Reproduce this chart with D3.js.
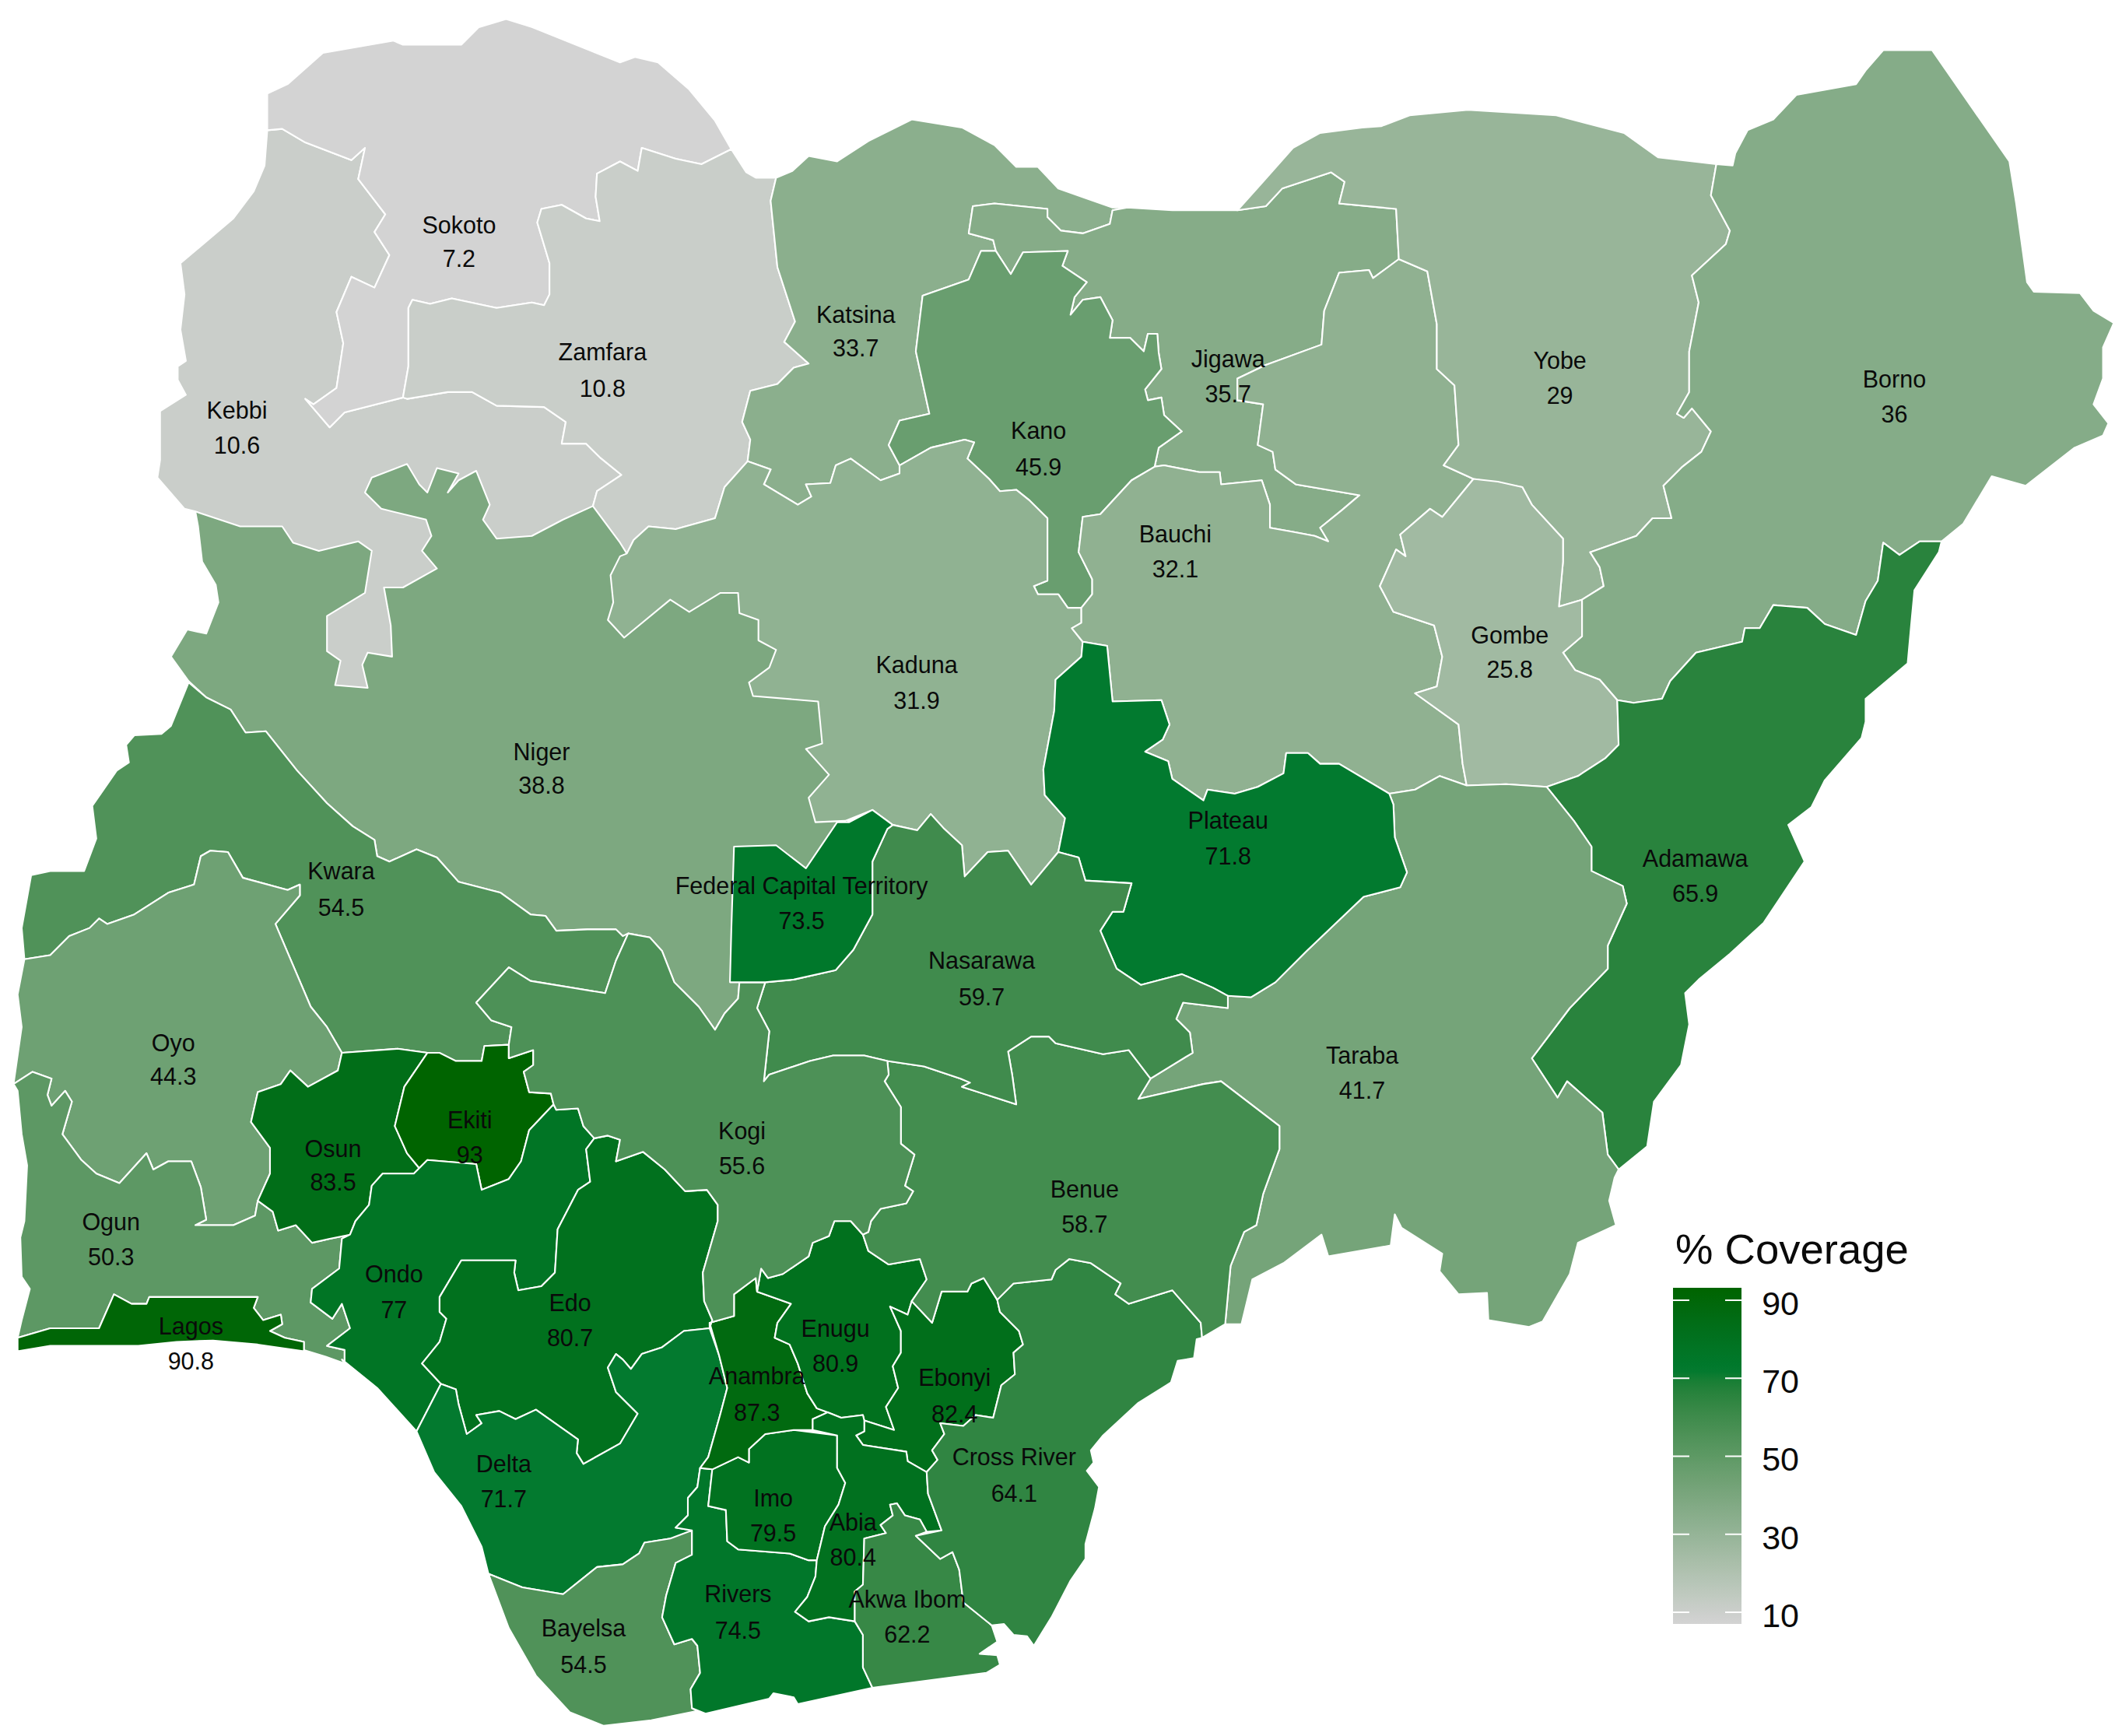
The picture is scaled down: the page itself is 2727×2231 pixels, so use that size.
<!DOCTYPE html>
<html><head><meta charset="utf-8">
<script src="https://cdn.jsdelivr.net/npm/d3@7/dist/d3.min.js"></script>
<style>html,body{margin:0;background:#fff}svg{display:block}text{font-family:"Liberation Sans",Arial,sans-serif;fill:#0a0a0a}</style>
</head><body><svg id="c" width="2727" height="2231"></svg>
<script>
// Values. Order = painting order of the map.
const stateNames=["Niger","Kebbi","Sokoto","Zamfara","Katsina","Jigawa","Kano","Kaduna","Bauchi","Yobe","Borno","Gombe","Adamawa","Taraba","Plateau","Kwara","Oyo","Ogun","Lagos","Osun","Ekiti","Ondo","Edo","Delta","Bayelsa","Rivers","Imo","Anambra","Enugu","Ebonyi","Abia","Akwa Ibom","Cross River","Benue","Nasarawa","Kogi","Federal Capital Territory"];
const coverage=[38.8,10.6,7.2,10.8,33.7,35.7,45.9,31.9,32.1,29,36,25.8,65.9,41.7,71.8,54.5,44.3,50.3,90.8,83.5,93,77,80.7,71.7,54.5,74.5,79.5,87.3,80.9,82.4,80.4,62.2,64.1,58.7,59.7,55.6,73.5];
const legendTicks=[10,30,50,70,90];
const legendTitle="% Coverage";
// Label anchors in map units: [x, name y, value y]
const labelAnchors=[[400,555,580],[175,303,329],[339,166,191],[445,260,287],[632,232,257],[907,265,291],[767,318,345],[677,491,517],[868,394,420],[1152,266,292],[1399,280,306],[1115,469,494],[1252,634,660],[1006,779,805],[907,606,632],[252,643,670],[128,770,795],[82,902,928],[141,979,1005],[246,848,873],[347,827,853],[291,941,967],[421,962,988],[372,1081,1107],[431,1202,1229],[545,1177,1204],[571,1106,1132],[559,1016,1043],[617,981,1007],[705,1017,1044],[630,1124,1150],[670,1181,1207],[749,1076,1103],[801,878,904],[725,709,736],[548,835,861],[592,654,680]];
// State outlines in map units
const outlines=[
[[144,377],[146,388],[149,414],[159,431],[161,444],[152,467],[138,464],[126,484],[139,502],[152,514],[170,523],[181,540],[196,539],[219,568],[241,592],[260,609],[276,619],[278,631],[287,635],[307,626],[322,632],[338,650],[369,658],[391,674],[402,675],[410,686],[433,685],[454,685],[459,690],[463,688],[479,691],[488,701],[497,724],[515,742],[527,759],[534,747],[544,736],[545,724],[625,700],[625,560],[620,510],[580,440],[500,420],[440,365],[420,340],[300,320],[250,350]],
[[197,96],[195,122],[187,141],[172,161],[133,194],[136,217],[133,243],[137,266],[131,270],[131,280],[137,291],[118,303],[118,339],[116,352],[136,375],[144,377],[177,388],[208,388],[216,400],[235,406],[264,399],[274,406],[269,437],[241,454],[241,480],[251,487],[247,505],[271,507],[267,490],[271,481],[289,484],[288,461],[283,433],[297,433],[322,419],[311,406],[318,395],[314,383],[281,375],[269,363],[274,352],[300,342],[309,357],[315,363],[322,345],[338,349],[330,363],[338,354],[351,347],[361,372],[356,383],[366,397],[392,395],[415,383],[437,373],[440,362],[458,350],[442,337],[432,327],[414,327],[417,311],[401,300],[366,299],[348,289],[330,289],[300,294],[297,293],[254,304],[243,315],[225,294],[231,298],[248,286],[253,253],[248,230],[259,204],[276,212],[287,188],[276,171],[284,158],[264,132],[269,109],[259,118],[225,105],[208,95]],
[[197,69],[212,62],[238,39],[290,30],[297,33],[340,33],[353,20],[373,14],[392,20],[457,46],[468,42],[485,46],[508,66],[527,89],[539,110],[517,121],[498,117],[473,109],[470,126],[457,119],[440,128],[439,145],[442,163],[432,161],[414,151],[399,154],[396,164],[405,194],[405,217],[401,225],[392,223],[366,227],[333,220],[317,224],[304,221],[301,227],[301,270],[297,293],[254,304],[243,315],[225,294],[231,298],[248,286],[253,253],[248,230],[259,204],[276,212],[287,188],[276,171],[284,158],[264,132],[269,109],[259,118],[225,105],[208,95],[197,96]],
[[539,110],[550,127],[557,131],[572,131],[568,148],[573,197],[586,237],[578,252],[596,268],[585,271],[573,283],[553,288],[547,311],[553,324],[551,340],[534,359],[527,382],[498,390],[478,388],[467,398],[462,408],[457,400],[437,373],[440,362],[458,350],[442,337],[432,327],[414,327],[417,311],[401,300],[366,299],[348,289],[330,289],[300,294],[297,293],[301,270],[301,227],[304,221],[317,224],[333,220],[366,227],[392,223],[401,225],[405,217],[405,194],[396,164],[399,154],[414,151],[432,161],[442,163],[439,145],[440,128],[457,119],[470,126],[473,109],[498,117],[517,121]],
[[572,131],[584,126],[596,115],[617,119],[640,104],[672,88],[709,94],[733,107],[749,123],[765,123],[780,139],[820,153],[831,153],[820,155],[818,165],[798,172],[782,170],[772,160],[772,154],[733,150],[717,152],[714,172],[732,177],[734,185],[723,185],[714,206],[680,218],[675,259],[685,305],[663,310],[655,328],[663,343],[663,349],[649,354],[627,338],[616,343],[612,356],[594,357],[598,366],[588,372],[563,357],[568,346],[551,340],[553,324],[547,311],[553,288],[573,283],[585,271],[596,268],[578,252],[586,237],[573,197],[568,148]],
[[831,153],[864,155],[912,155],[933,152],[945,139],[981,127],[991,134],[987,150],[1029,154],[1031,191],[1012,205],[1009,199],[987,201],[976,229],[974,254],[933,269],[912,279],[912,295],[931,298],[927,328],[938,333],[940,346],[955,357],[1002,365],[989,376],[973,389],[979,399],[969,395],[953,392],[936,389],[936,372],[930,354],[900,357],[899,348],[884,348],[858,343],[851,344],[854,330],[871,318],[858,306],[856,293],[846,295],[844,287],[856,272],[854,260],[853,246],[846,246],[843,259],[833,249],[818,249],[820,236],[811,219],[798,221],[789,232],[792,219],[801,208],[783,196],[787,185],[754,186],[745,202],[734,185],[732,177],[714,172],[717,152],[733,150],[772,154],[772,160],[782,170],[798,172],[818,165],[820,155]],
[[734,185],[745,202],[754,186],[787,185],[783,196],[801,208],[792,219],[789,232],[798,221],[811,219],[820,236],[818,249],[833,249],[843,259],[846,246],[853,246],[854,260],[856,272],[844,287],[846,295],[856,293],[858,306],[871,318],[854,330],[851,344],[834,354],[811,379],[798,381],[795,407],[805,427],[805,438],[797,448],[787,448],[780,438],[765,438],[762,432],[772,428],[772,382],[759,369],[749,361],[737,362],[729,353],[713,338],[718,326],[711,324],[686,330],[663,343],[655,328],[663,310],[685,305],[675,259],[680,218],[714,206],[723,185]],
[[462,408],[467,398],[478,388],[498,390],[527,382],[534,359],[551,340],[568,346],[563,357],[588,372],[598,366],[594,357],[612,356],[616,343],[627,338],[649,354],[663,349],[663,343],[686,330],[711,324],[718,326],[713,338],[729,353],[737,362],[749,361],[759,369],[772,382],[772,428],[762,432],[765,438],[780,438],[787,448],[797,448],[797,459],[790,463],[798,473],[797,484],[778,501],[777,524],[769,567],[770,586],[785,603],[780,628],[760,652],[743,627],[728,628],[711,646],[709,623],[696,611],[686,600],[676,612],[658,608],[643,597],[623,605],[601,606],[596,588],[611,571],[594,552],[606,548],[603,517],[555,513],[552,503],[567,492],[572,479],[559,472],[559,457],[545,452],[544,437],[531,437],[508,451],[494,442],[460,470],[448,457],[452,444],[450,424],[457,410]],
[[851,344],[858,343],[884,348],[899,348],[900,357],[930,354],[936,372],[936,389],[953,392],[969,395],[979,399],[973,389],[989,376],[1002,365],[955,357],[940,346],[938,333],[927,328],[931,298],[912,295],[912,279],[933,269],[974,254],[976,229],[987,201],[1009,199],[1012,205],[1031,191],[1052,200],[1059,239],[1059,272],[1072,284],[1075,328],[1064,343],[1086,353],[1063,381],[1054,375],[1032,394],[1036,410],[1029,405],[1017,432],[1027,451],[1057,461],[1063,484],[1059,506],[1043,511],[1075,534],[1078,563],[1081,579],[1061,572],[1043,582],[1024,585],[987,563],[973,563],[964,555],[948,555],[946,570],[927,580],[910,585],[890,582],[887,590],[864,574],[861,561],[844,554],[857,545],[862,534],[856,516],[820,517],[816,476],[798,473],[790,463],[797,459],[797,448],[805,438],[805,427],[795,407],[798,381],[811,379],[834,354]],
[[912,155],[930,135],[953,109],[973,98],[1004,94],[1018,93],[1039,85],[1082,81],[1147,85],[1197,98],[1222,116],[1265,121],[1261,144],[1275,170],[1272,180],[1247,203],[1252,223],[1245,259],[1245,289],[1236,305],[1241,308],[1247,301],[1261,318],[1254,333],[1240,344],[1226,358],[1232,382],[1218,382],[1206,395],[1172,407],[1179,418],[1182,432],[1166,442],[1149,447],[1152,414],[1152,397],[1129,372],[1122,359],[1086,353],[1064,343],[1075,328],[1072,284],[1059,272],[1059,239],[1052,200],[1031,191],[1029,154],[987,150],[991,134],[981,127],[945,139],[933,152]],
[[1265,121],[1277,122],[1279,113],[1288,96],[1307,88],[1324,70],[1368,62],[1375,52],[1388,37],[1424,37],[1481,119],[1486,150],[1494,208],[1499,215],[1533,216],[1543,229],[1558,238],[1550,256],[1550,279],[1543,298],[1554,312],[1550,321],[1529,330],[1493,358],[1468,351],[1447,386],[1431,399],[1415,399],[1400,409],[1388,400],[1384,428],[1375,443],[1368,468],[1345,460],[1332,448],[1307,446],[1297,463],[1286,463],[1284,473],[1250,481],[1231,502],[1225,515],[1204,518],[1192,516],[1179,501],[1161,494],[1152,481],[1166,469],[1166,442],[1182,432],[1179,418],[1172,407],[1206,395],[1218,382],[1232,382],[1226,358],[1240,344],[1254,333],[1261,318],[1247,301],[1241,308],[1236,305],[1245,289],[1245,259],[1252,223],[1247,203],[1272,180],[1275,170],[1261,144]],
[[1086,353],[1104,355],[1122,359],[1129,372],[1152,397],[1152,414],[1149,447],[1166,442],[1166,469],[1152,481],[1161,494],[1179,501],[1192,516],[1193,549],[1183,559],[1163,572],[1140,580],[1110,578],[1081,579],[1078,563],[1075,534],[1043,511],[1059,506],[1063,484],[1057,461],[1027,451],[1017,432],[1029,405],[1036,410],[1032,394],[1054,375],[1063,381]],
[[1431,399],[1429,407],[1411,435],[1409,456],[1406,489],[1375,515],[1375,532],[1372,544],[1345,575],[1335,595],[1318,608],[1330,635],[1300,680],[1275,703],[1252,722],[1242,732],[1245,755],[1239,785],[1219,812],[1214,845],[1193,862],[1185,851],[1181,820],[1155,797],[1148,809],[1129,780],[1157,743],[1185,714],[1185,697],[1199,666],[1196,653],[1173,642],[1173,624],[1160,605],[1140,580],[1163,572],[1183,559],[1193,549],[1192,516],[1204,518],[1225,515],[1231,502],[1250,481],[1284,473],[1286,463],[1297,463],[1307,446],[1332,448],[1345,460],[1368,468],[1375,443],[1384,428],[1388,400],[1400,409],[1415,399]],
[[1081,579],[1061,572],[1043,582],[1024,585],[1027,593],[1028,617],[1037,643],[1032,654],[1005,661],[963,701],[940,724],[922,735],[905,734],[905,743],[872,739],[867,751],[877,761],[879,776],[848,795],[839,810],[887,799],[900,797],[943,830],[943,847],[931,880],[926,903],[917,908],[907,933],[903,976],[915,976],[923,943],[946,931],[974,910],[979,926],[1025,918],[1028,895],[1033,905],[1063,924],[1061,937],[1075,954],[1096,953],[1097,973],[1127,978],[1137,974],[1157,939],[1163,916],[1191,903],[1186,885],[1190,868],[1193,862],[1185,851],[1181,820],[1155,797],[1148,809],[1129,780],[1157,743],[1185,714],[1185,697],[1199,666],[1196,653],[1173,642],[1173,624],[1160,605],[1140,580],[1110,578]],
[[798,473],[816,476],[820,517],[856,516],[862,534],[857,545],[844,554],[861,561],[864,574],[887,590],[890,582],[910,585],[927,580],[946,570],[948,555],[964,555],[973,563],[987,563],[1024,585],[1027,593],[1028,617],[1037,643],[1032,654],[1005,661],[963,701],[940,724],[922,735],[905,734],[894,728],[871,718],[841,726],[823,714],[811,686],[820,672],[828,672],[834,651],[800,649],[795,632],[780,628],[785,603],[770,586],[769,567],[777,524],[778,501],[797,484]],
[[139,503],[126,535],[119,541],[99,542],[93,549],[95,562],[86,568],[68,594],[71,618],[62,642],[37,642],[23,645],[16,684],[18,707],[37,704],[51,690],[66,684],[73,677],[79,681],[99,674],[124,658],[143,652],[148,631],[155,627],[168,628],[179,647],[212,656],[221,652],[221,660],[203,681],[229,742],[241,757],[252,776],[293,773],[315,776],[336,782],[355,782],[357,771],[375,770],[377,757],[362,752],[351,739],[375,713],[391,723],[446,732],[454,708],[463,688],[459,690],[454,685],[433,685],[410,686],[402,675],[391,674],[369,658],[338,650],[322,632],[307,626],[287,635],[278,631],[276,619],[260,609],[241,592],[219,568],[196,539],[181,540],[170,523],[152,514]],
[[18,707],[37,704],[51,690],[66,684],[73,677],[79,681],[99,674],[124,658],[143,652],[148,631],[155,627],[168,628],[179,647],[212,656],[221,652],[221,660],[203,681],[229,742],[241,757],[252,776],[249,789],[227,801],[214,789],[207,799],[190,805],[185,827],[199,846],[199,865],[190,885],[188,896],[172,903],[144,903],[152,899],[148,875],[141,856],[124,856],[113,862],[108,850],[88,872],[71,865],[60,855],[46,836],[53,812],[48,804],[38,815],[35,807],[38,795],[24,790],[10,799],[16,757],[13,733]],
[[10,799],[24,790],[38,795],[35,807],[38,815],[48,804],[53,812],[46,836],[60,855],[71,865],[88,872],[108,850],[113,862],[124,856],[141,856],[148,875],[152,899],[144,903],[172,903],[188,896],[190,885],[201,893],[205,907],[218,903],[230,916],[243,913],[258,910],[252,913],[250,935],[230,950],[229,960],[245,972],[252,961],[258,979],[241,992],[254,995],[254,1005],[240,1000],[224,995],[224,989],[210,986],[199,981],[208,976],[207,969],[194,973],[187,964],[190,956],[110,956],[108,961],[97,961],[84,954],[73,979],[37,979],[13,986],[16,973],[22,950],[16,941],[15,912],[18,900],[20,859],[16,836],[13,804]],
[[13,986],[37,979],[73,979],[84,954],[97,961],[108,961],[110,956],[190,956],[187,964],[194,973],[207,969],[208,976],[199,981],[210,986],[224,989],[224,996],[190,991],[157,988],[130,989],[102,992],[37,992],[13,996]],
[[252,776],[293,773],[315,776],[298,801],[291,830],[300,850],[309,861],[305,865],[282,865],[274,874],[272,888],[262,900],[258,910],[243,913],[230,916],[218,903],[205,907],[201,893],[190,885],[199,865],[199,846],[185,827],[190,805],[207,799],[214,789],[227,801],[249,789]],
[[315,776],[324,776],[336,782],[355,782],[357,771],[375,770],[375,780],[393,774],[393,785],[386,790],[390,805],[406,806],[408,814],[390,833],[384,856],[375,869],[355,877],[351,858],[315,855],[309,861],[300,850],[291,830],[298,801]],
[[309,861],[315,855],[351,858],[355,877],[375,869],[384,856],[390,833],[408,814],[410,818],[426,817],[430,830],[438,839],[432,847],[435,871],[426,877],[411,906],[409,938],[399,948],[382,951],[379,938],[380,929],[340,929],[324,956],[324,967],[329,972],[324,989],[311,1005],[325,1020],[307,1055],[278,1023],[252,1002],[254,1005],[254,995],[241,992],[258,979],[252,961],[245,972],[229,960],[230,950],[250,935],[252,913],[258,910],[262,900],[272,888],[274,874],[282,865],[305,865]],
[[438,839],[448,837],[457,840],[454,856],[474,849],[490,862],[505,878],[521,877],[529,888],[529,900],[518,938],[519,959],[525,973],[523,979],[504,981],[488,993],[473,998],[465,1009],[459,1002],[454,998],[448,1008],[454,1026],[470,1042],[457,1064],[430,1079],[425,1071],[426,1061],[395,1039],[380,1046],[368,1040],[351,1043],[355,1049],[344,1057],[338,1035],[336,1024],[325,1020],[311,1005],[324,989],[329,972],[324,967],[324,956],[340,929],[380,929],[379,938],[382,951],[399,948],[409,938],[411,906],[426,877],[435,871],[432,847]],
[[307,1055],[325,1020],[336,1024],[338,1035],[344,1057],[355,1049],[351,1043],[368,1040],[380,1046],[395,1039],[426,1061],[425,1071],[430,1079],[457,1064],[470,1042],[454,1026],[448,1008],[454,998],[459,1002],[465,1009],[473,998],[488,993],[504,981],[523,979],[530,999],[536,1023],[531,1042],[522,1074],[516,1082],[514,1096],[507,1104],[507,1117],[498,1126],[510,1128],[510,1146],[498,1152],[494,1134],[475,1137],[471,1145],[459,1153],[440,1155],[415,1175],[385,1170],[360,1160],[355,1140],[340,1110],[320,1085]],
[[360,1160],[385,1170],[415,1175],[440,1155],[459,1153],[471,1145],[475,1137],[494,1134],[510,1128],[510,1146],[498,1152],[491,1176],[488,1192],[497,1212],[510,1208],[514,1213],[516,1233],[509,1245],[510,1259],[514,1261],[480,1268],[445,1272],[420,1262],[395,1235],[375,1200]],
[[516,1082],[514,1096],[507,1104],[507,1117],[498,1126],[510,1128],[510,1146],[498,1152],[491,1176],[488,1192],[497,1212],[510,1208],[514,1213],[516,1233],[509,1245],[510,1259],[520,1263],[567,1252],[570,1248],[585,1251],[588,1256],[643,1244],[636,1229],[636,1205],[630,1195],[611,1192],[596,1195],[586,1188],[595,1177],[601,1162],[602,1150],[596,1150],[582,1145],[544,1142],[536,1136],[535,1113],[522,1110],[525,1083]],
[[525,1083],[544,1074],[552,1078],[552,1068],[564,1057],[585,1054],[617,1058],[617,1082],[623,1093],[618,1109],[608,1125],[602,1150],[596,1150],[582,1145],[544,1142],[536,1136],[535,1113],[522,1110]],
[[523,975],[541,970],[541,954],[557,942],[558,952],[583,961],[573,975],[571,986],[582,991],[588,1005],[595,1027],[602,1038],[610,1041],[599,1046],[599,1054],[585,1054],[564,1057],[552,1068],[552,1078],[544,1074],[525,1083],[516,1082],[522,1074],[531,1042],[536,1023],[530,999]],
[[558,952],[561,935],[566,942],[577,939],[596,926],[599,916],[611,911],[615,900],[627,900],[636,910],[640,922],[655,932],[678,928],[683,943],[672,959],[669,969],[656,963],[664,981],[664,997],[658,1007],[662,1023],[653,1037],[659,1054],[637,1047],[636,1043],[620,1045],[610,1041],[602,1038],[595,1027],[588,1005],[582,991],[571,986],[573,975],[583,961]],
[[656,963],[669,969],[672,959],[687,975],[694,952],[713,952],[716,946],[725,942],[735,958],[737,967],[751,981],[754,991],[747,997],[748,1013],[738,1021],[732,1045],[719,1043],[710,1051],[693,1049],[696,1057],[687,1069],[691,1076],[683,1085],[669,1077],[668,1070],[636,1065],[631,1058],[637,1055],[637,1047],[659,1054],[653,1037],[662,1023],[658,1007],[664,997],[664,981]],
[[610,1041],[620,1045],[636,1043],[637,1047],[637,1055],[631,1058],[636,1065],[668,1070],[669,1077],[683,1085],[684,1101],[694,1128],[683,1129],[678,1120],[667,1117],[661,1108],[656,1109],[658,1117],[649,1124],[653,1130],[637,1134],[636,1168],[630,1173],[630,1195],[611,1192],[596,1195],[586,1188],[595,1177],[601,1162],[602,1150],[608,1125],[618,1109],[623,1093],[617,1082],[617,1058],[599,1054],[599,1046]],
[[637,1134],[653,1130],[649,1124],[658,1117],[656,1109],[661,1108],[667,1117],[678,1120],[683,1129],[675,1132],[693,1149],[702,1144],[707,1157],[710,1181],[731,1198],[735,1210],[722,1219],[735,1220],[737,1227],[727,1233],[643,1244],[636,1229],[636,1205],[630,1195],[630,1173],[636,1168]],
[[735,958],[747,946],[775,943],[778,936],[788,928],[804,931],[826,946],[822,954],[832,961],[864,951],[885,975],[886,986],[882,987],[880,1001],[868,1003],[863,1019],[839,1034],[813,1058],[804,1069],[806,1078],[801,1084],[810,1096],[807,1112],[800,1138],[800,1149],[789,1165],[775,1192],[762,1213],[757,1206],[747,1205],[740,1197],[731,1198],[710,1181],[707,1157],[702,1144],[693,1149],[675,1132],[694,1128],[684,1101],[683,1085],[691,1076],[687,1069],[696,1057],[693,1049],[710,1051],[719,1043],[732,1045],[738,1021],[748,1013],[747,997],[754,991],[751,981],[737,967]],
[[654,782],[681,786],[708,795],[715,798],[709,801],[749,814],[746,792],[743,775],[760,764],[773,764],[778,769],[813,777],[832,774],[848,795],[839,810],[887,799],[900,797],[943,830],[943,847],[931,880],[926,903],[917,908],[907,933],[903,976],[886,986],[885,975],[864,951],[832,961],[822,954],[826,946],[804,931],[788,928],[778,936],[775,943],[747,946],[735,958],[725,942],[716,946],[713,952],[694,952],[687,975],[672,959],[683,943],[678,928],[655,932],[640,922],[636,910],[640,908],[642,900],[649,891],[668,887],[673,878],[667,874],[674,851],[664,843],[664,816],[652,797],[655,792]],
[[658,608],[676,612],[686,600],[696,611],[709,623],[711,646],[728,628],[743,627],[760,652],[780,628],[795,632],[800,649],[834,651],[828,672],[820,672],[811,686],[823,714],[841,726],[871,718],[894,728],[905,734],[905,743],[872,739],[867,751],[877,761],[879,776],[848,795],[832,774],[813,777],[778,769],[773,764],[760,764],[743,775],[746,792],[749,814],[709,801],[715,798],[708,795],[681,786],[654,782],[637,778],[614,778],[597,782],[567,792],[563,797],[567,760],[558,743],[564,724],[585,722],[616,715],[629,700],[643,674],[643,635],[654,611]],
[[463,688],[479,691],[488,701],[497,724],[515,742],[527,759],[534,747],[544,736],[545,724],[564,724],[558,743],[567,760],[563,797],[567,792],[597,782],[614,778],[637,778],[654,782],[655,792],[652,797],[664,816],[664,843],[674,851],[667,874],[673,878],[668,887],[649,891],[642,900],[640,908],[636,910],[627,900],[615,900],[611,911],[599,916],[596,926],[577,939],[566,942],[561,935],[558,952],[557,942],[541,954],[541,970],[523,975],[523,979],[525,973],[519,959],[518,938],[529,900],[529,888],[521,877],[505,878],[490,862],[474,849],[454,856],[457,840],[448,837],[438,839],[430,830],[426,817],[410,818],[408,814],[406,806],[390,805],[386,790],[393,785],[393,774],[375,780],[375,770],[377,757],[362,752],[351,739],[375,713],[391,723],[446,732],[454,708]],
[[541,624],[572,623],[594,640],[617,606],[626,606],[643,597],[658,608],[654,611],[643,635],[643,674],[629,700],[616,715],[585,722],[564,724],[538,724],[539,686]]
];

const svg=d3.select("#c");
const mapScale=2727/1564;
const labelScale=mapScale*0.998;
const projection=d3.geoIdentity().scale(mapScale);
const path=d3.geoPath(projection);
const color=d3.scaleLinear().domain([7.2,72,93]).range(["#d3d3d3","#007a2e","#006400"]).interpolate(d3.interpolateLab);

const rows=stateNames.map((name,i)=>({name,value:coverage[i],anchor:labelAnchors[i],
  geo:{type:"Polygon",coordinates:[outlines[i].concat([outlines[i][0]])]}}));

svg.append("g").selectAll("path").data(rows).join("path")
  .attr("d",d=>path(d.geo)).attr("fill",d=>color(d.value))
  .attr("stroke","#fff").attr("stroke-width",2.1).attr("stroke-linejoin","round");

const labels=svg.append("g").attr("font-size",30.5).attr("text-anchor","middle");
rows.forEach(d=>{
  const [x,y1,y2]=d.anchor;
  labels.append("text").attr("x",x*labelScale).attr("y",y1*labelScale).attr("dy","0.36em").text(d.name);
  labels.append("text").attr("x",x*labelScale).attr("y",y2*labelScale).attr("dy","0.36em").text(d.value);
});

// Legend
const legendY=d3.scaleLinear().domain([10,90]).range([2072,1671]);
const barX=2150,barW=88,barTop=1655,barBottom=2087;
const defs=svg.append("defs");
const grad=defs.append("linearGradient").attr("id","lg").attr("x1",0).attr("x2",0).attr("y1",0).attr("y2",1);
d3.range(0,41).forEach(i=>{const t=i/40;
  grad.append("stop").attr("offset",t).attr("stop-color",color(Math.min(93,Math.max(7.2,legendY.invert(barTop+t*(barBottom-barTop))))));});
const legend=svg.append("g");
legend.append("rect").attr("x",barX).attr("y",barTop).attr("width",barW).attr("height",barBottom-barTop).attr("fill","url(#lg)");
legendTicks.forEach(v=>{
  const y=legendY(v);
  legend.append("line").attr("x1",barX).attr("x2",barX+21).attr("y1",y).attr("y2",y).attr("stroke","#fff").attr("stroke-width",2);
  legend.append("line").attr("x1",barX+barW-21).attr("x2",barX+barW).attr("y1",y).attr("y2",y).attr("stroke","#fff").attr("stroke-width",2);
  legend.append("text").attr("x",2312).attr("y",y+3).attr("dy","0.37em").attr("text-anchor","end").attr("font-size",43).text(v);
});
legend.append("text").attr("x",2153).attr("y",1624).attr("font-size",54.5).text(legendTitle);
</script></body></html>
